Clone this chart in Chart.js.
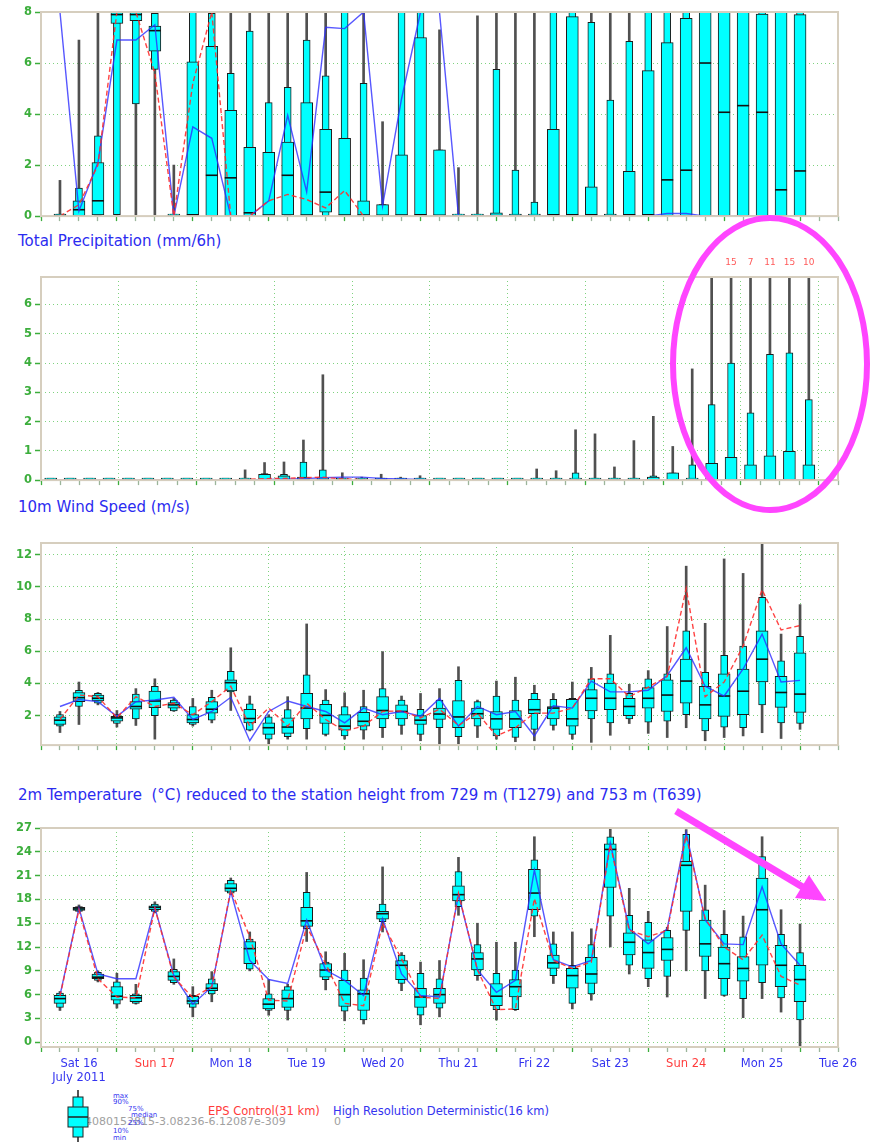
<!DOCTYPE html>
<html>
<head>
<meta charset="utf-8">
<script src="https://cdn.jsdelivr.net/npm/chart.js@4.4.1/dist/chart.umd.min.js"></script>
<style>
  body { margin: 0; background: #fff; }
  #page { position: relative; width: 870px; height: 1142px; overflow: hidden; font-family: "DejaVu Sans", sans-serif; }
  canvas { position: absolute; left: 0; }
  .title { position: absolute; left: 18px; color: #2b2bf0; font-size: 15px; line-height: 18px; white-space: pre; }
  .lg { position: absolute; white-space: pre; line-height: 1; }
  svg { position: absolute; left: 0; top: 0; pointer-events: none; }
</style>
</head>
<body>
<div id="page">
  <canvas id="cc" width="870" height="226" style="top:0px"></canvas>
  <div class="title" style="top:232px">Total Precipitation (mm/6h)</div>
  <canvas id="tp" width="870" height="240" style="top:250px"></canvas>
  <div class="title" style="top:498px">10m Wind Speed (m/s)</div>
  <canvas id="ws" width="870" height="225" style="top:530px"></canvas>
  <div class="title" style="top:786px">2m Temperature  (°C) reduced to the station height from 729 m (T1279) and 753 m (T639)</div>
  <canvas id="t2" width="870" height="277" style="top:815px"></canvas>

  <div class="lg" style="left:85px;top:1116px;font-size:11px;color:#a0a0a0">4080152815-3.08236-6.12087e-309</div>
  <div class="lg" style="left:334px;top:1116px;font-size:11px;color:#a0a0a0">0</div>
  <div class="lg" style="left:113px;top:1093px;font-size:7px;color:#3434f0">max</div>
  <div class="lg" style="left:113px;top:1099px;font-size:7px;color:#3434f0">90%</div>
  <div class="lg" style="left:128px;top:1106px;font-size:7px;color:#3434f0">75%</div>
  <div class="lg" style="left:131px;top:1112px;font-size:7px;color:#3434f0">median</div>
  <div class="lg" style="left:128px;top:1120px;font-size:7px;color:#3434f0">25%</div>
  <div class="lg" style="left:113px;top:1128px;font-size:7px;color:#3434f0">10%</div>
  <div class="lg" style="left:113px;top:1135px;font-size:7px;color:#3434f0">min</div>
  <div class="lg" style="left:208px;top:1106px;font-size:11.5px;color:#ff3b3b">EPS Control(31 km)</div>
  <div class="lg" style="left:333px;top:1106px;font-size:11.5px;color:#3434f0">High Resolution Deterministic(16 km)</div>

  <svg width="870" height="1142">
    <line x1="78" y1="1090" x2="78" y2="1142" stroke="#555" stroke-width="2"/>
    <rect x="73" y="1097" width="10" height="40" fill="#00ffff" stroke="#222" stroke-width="1"/>
    <rect x="68" y="1107" width="20" height="20" fill="#00ffff" stroke="#222" stroke-width="1"/>
    <line x1="68" y1="1117" x2="88" y2="1117" stroke="#222" stroke-width="1.5"/>
    <ellipse cx="770" cy="364" rx="97" ry="146" fill="none" stroke="#ff45ff" stroke-width="6"/>
    <line x1="676" y1="811" x2="806" y2="889" stroke="#ff45ff" stroke-width="7"/>
    <polygon points="826,901 795,898 809,875" fill="#ff45ff"/>
  </svg>
</div>

<script>
// time axes (hours after Sat 16 July 2011 00 UTC)
const stepHours = [6,12,18,24,30,36,42,48,54,60,66,72,78,84,90,96,102,108,114,120,
  126,132,138,144,150,156,162,168,174,180,186,192,198,204,210,216,222,228,234,240];
const precipHours = [3,9,15,21,27,33,39,45,51,57,63,69,75,81,87,93,99,105,111,117,
  123,129,135,141,147,153,159,165,171,177,183,189,195,201,207,213,219,225,231,237];
const dayLabels = [['Sat 16', 'July 2011'], 'Sun 17', 'Mon 18', 'Tue 19', 'Wed 20', 'Thu 21',
  'Fri 22', 'Sat 23', 'Sun 24', 'Mon 25', 'Tue 26'];

const cloudTicks = [0, 2, 4, 6, 8];
const precipTicks = [0, 1, 2, 3, 4, 5, 6];
const windTicks = [2, 4, 6, 8, 10, 12];
const tempTicks = [0, 3, 6, 9, 12, 15, 18, 21, 24, 27];

// top panel (0-8)
const ccMin = [0,0,0,0,0.05,0.05,0,0,0,0, 0,0,0,0,0,0,0,0,0,0, 0,0,0,0,0,0,0,0,0,0, 0,0,0,0,0,0,0,0,0,0];
const ccP10 = [0,0,0,0.06,4.4,5.75,0,0,0,0, 0,0,0,0,0,0,0,0,0,0, 0,0,0,0,0,0,0,0,0,0, 0,0,0,0,0,0,0,0,0,0];
const ccP25 = [0,0.02,0.05,7.55,7.66,6.46,0,0,0.02,0.02, 0,0,0.05,0,0.15,0,0,0,0,0, 0,0,0,0,0,0,0,0,0,0, 0,0,0,0,0,0,0,0,0,0];
const ccMed = [0.02,0.25,0.6,7.9,7.9,7.27,0,0.05,1.6,1.5, 0.13,0.04,1.6,0.04,0.94,0.04,0.04,0.03,0.04,0.05,
  0.03,0,0,0.02,0.02,0,0.05,0.05,0.05,0.02, 0.05,0.05,1.42,1.8,6.0,4.07,4.33,4.07,1.03,1.77];
const ccP75 = [0.03,0.6,2.1,8,8,7.45,0,6.05,6.65,4.15, 2.7,2.5,2.9,4.45,3.4,3.05,0.6,0.45,2.4,7.0,
  2.6,0,0,0.13,0.05,0.02,3.4,7.82,1.15,0.05, 1.75,5.7,6.8,7.75,8,8,8,7.92,8,7.9];
const ccP90 = [0.05,1.1,3.15,8,8,7.95,0,8,7.95,5.6, 7.25,4.45,5.05,6.9,5.5,8,5.2,0.45,8,8,
  2.6,0,0,5.75,1.8,0.55,8,8,7.6,4.55, 6.85,8,8,8,8,8,8,8,8,8];
const ccMax = [1.4,6.9,8,8,8,8,2.0,8,8,8, 8,8,8,8,8,8,8,3.7,8,8,
  7.3,1.9,7.85,8,8,8,8,8,8,8, 8,8,8,8,8,8,8,8,8,8];
const ccCtrl = [0,0.45,2.0,8,8,5.6,0,5.2,8,0, 0,0.6,0.85,0.65,0.32,1.0,0,0,0,0,
  0,0,0,0,0,0,0,0,0,0, 0,0,0,0,0,0,0,0,0,0];
const ccHres = [8,0.2,2.1,6.9,6.9,7.5,0,3.5,3.05,0, 0,0.6,3.95,0.95,7.4,7.35,8,0.4,4.6,8,
  8,0,0,0,0,0,0,0,0,0, 0,0,0.1,0.1,0,0,0,0,0,0];

// total precipitation (mm/6h)
const tpMin = [0,0,0,0,0,0,0,0,0,0, 0,0,0,0,0,0,0,0,0,0, 0,0,0,0,0,0,0,0,0,0, 0,0,0,0,0,0,0,0,0,0];
const tpP10 = [0,0,0,0,0,0,0,0,0,0, 0,0,0,0,0,0,0,0,0,0, 0,0,0,0,0,0,0,0,0,0, 0,0,0,0,0,0,0,0,0,0];
const tpP25 = [0,0,0,0,0,0,0,0,0,0, 0,0,0,0,0,0,0,0,0,0, 0,0,0,0,0,0,0,0,0,0, 0,0,0,0,0,0,0,0,0,0];
const tpMed = [0,0,0,0,0,0,0,0,0,0, 0,0,0,0,0,0,0,0,0,0, 0,0,0,0,0,0,0,0,0,0, 0,0,0,0,0,0,0,0,0,0];
const tpP75 = [0,0,0,0,0,0,0,0,0,0, 0.03,0.2,0.15,0.1,0.05,0.02,0,0,0,0,
  0,0,0,0,0,0,0,0.05,0,0, 0,0.1,0.25,0.05,0.57,0.78,0.52,0.83,0.98,0.52];
const tpP90 = [0,0,0,0,0,0,0,0,0,0, 0.05,0.22,0.2,0.62,0.35,0.05,0,0,0,0,
  0,0,0,0,0,0.02,0.03,0.25,0.03,0.01, 0.02,0.15,0.25,0.52,2.58,4.0,2.3,4.3,4.35,2.75];
const tpMax = [0.02,0.03,0.02,0.03,0.04,0.02,0.02,0.02,0.02,0.02, 0.35,0.6,0.62,1.37,3.6,0.25,0.1,0.2,0.1,0.15,
  0.03,0.02,0.05,0.02,0.05,0.38,0.32,1.72,1.58,0.45, 1.35,2.18,1.15,3.8,6.9,15,7,11,15,10];
const tpCtrl = [0,0,0,0,0,0,0,0,0,0, 0.02,0.05,0.06,0.08,0.1,0.04,0.02,0,0,0,
  0,0,0,0,0,0,0,0,0,0, 0,0,0,0,0,0,0,0,0,0];
const tpHres = [0,0,0,0,0,0,0,0,0,0, 0,0.02,0.03,0.05,0.08,0.1,0.1,0.06,0.04,0.02,
  0,0,0,0,0,0,0,0,0,0, 0,0,0,0,0,0,0,0,0,0];

// 10m wind speed (m/s)
const wsMin = [0.95,1.45,2.67,1.29,1.39,0.54,2.26,1.35,1.55,2.32, 1.05,0.24,0.54,0.54,0.74,0.54,0.54,0.64,0.84,0.44,
  0.24,0.24,0.64,0.54,0.38,0.44,1.1,0.54,0.34,0.78, 1.51,0.9,0.64,1.25,0.44,0.64,0.74,0.94,0.58,1.15];
const wsP10 = [1.35,2.57,2.77,1.51,1.8,2.0,2.3,1.45,1.72,3.48, 1.1,0.54,0.7,1.19,0.84,0.74,1.1,1.25,1.39,0.84,
  1.25,0.7,1.35,0.74,0.64,1.15,1.39,0.84,1.8,1.55, 1.8,1.6,1.65,2.06,1.05,1.29,1.25,2.67,1.55,1.51];
const wsP25 = [1.45,2.87,2.91,1.65,2.4,2.5,2.47,1.55,2.16,3.54, 1.55,0.84,0.9,1.8,1.51,1.1,1.35,1.8,1.8,1.45,
  1.76,1.25,1.8,1.15,1.25,2.12,1.8,1.35,2.3,2.37, 2.0,2.47,2.26,2.77,1.8,1.96,2.06,4.09,2.51,2.2];
const wsMed = [1.72,3.12,3.08,1.86,2.57,2.91,2.67,1.76,2.4,4.05, 1.82,1.25,1.29,2.47,2.02,1.35,1.65,2.32,2.26,1.72,
  2.1,1.92,2.12,1.8,1.8,2.37,2.47,1.8,3.08,3.08, 2.57,3.08,3.28,4.15,2.67,3.22,3.52,5.51,3.44,3.34];
const wsP75 = [1.92,3.44,3.28,1.96,2.87,3.52,2.81,2.06,2.87,4.23, 2.4,1.55,1.86,3.38,2.71,2.06,2.2,3.18,2.67,2.0,
  2.47,2.93,2.47,2.26,2.32,3.01,2.57,3.01,3.62,4.03, 3.07,3.74,4.23,5.51,3.83,4.6,4.9,7.27,4.45,5.91];
const wsP90 = [2.06,3.58,3.38,2.06,3.34,3.83,2.97,2.57,3.14,4.76, 2.73,1.92,2.37,4.54,2.97,2.57,2.57,3.68,2.97,2.4,
  2.97,4.19,2.87,3.22,2.97,3.38,3.01,3.07,4.29,4.6, 3.38,4.29,4.6,7.27,4.7,5.75,6.32,9.36,5.41,6.93];
const wsMax = [2.26,4.09,3.44,2.32,3.68,4.29,3.07,3.07,3.58,6.22, 3.22,2.06,3.18,7.7,3.62,3.42,3.58,5.98,3.22,3.38,
  3.68,5.04,2.97,4.15,4.39,3.89,3.38,4.09,5.0,6.99, 3.95,4.8,7.54,11.29,7.74,11.74,10.84,12.75,7.07,8.9];
const wsCtrl = [1.76,3.28,3.18,1.86,3.18,2.57,2.77,2.06,2.87,3.83, 1.35,2.47,1.35,2.77,1.76,1.05,1.35,2.26,2.3,1.86,
  2.4,1.39,2.16,0.74,1.25,2.16,2.16,2.47,4.29,4.29, 3.18,3.78,4.43,9.91,3.18,4.09,6.32,9.83,7.33,7.6];
const wsHres = [2.57,3.0,2.87,1.96,2.87,2.97,3.14,1.76,2.26,3.14, 0.44,2.26,2.91,2.57,2.26,1.55,2.47,2.06,2.26,1.96,
  3.07,1.35,2.57,2.06,2.26,0.74,2.61,2.47,4.15,3.48, 3.48,3.58,4.5,6.22,3.83,3.22,4.9,7.07,4.09,4.19];

// 2m temperature (°C)
const t2Min = [4.0,16.4,7.6,4.3,4.8,16.3,7.3,3.2,5.1,18.6, 9.0,3.4,2.8,12.7,6.6,2.7,2.3,13.9,6.5,2.2,
  3.2,16.0,7.8,2.8,4.0,13.3,7.4,4.2,5.3,12.0, 8.6,7.0,5.7,9.0,5.5,5.8,3.1,5.5,3.8,-0.6];
const t2P10 = [4.4,16.5,7.8,4.8,4.9,16.5,7.5,4.4,6.1,18.8, 9.2,4.0,4.0,14.3,7.9,3.9,2.8,15.2,7.4,3.4,
  4.3,17.1,8.4,4.1,4.1,15.9,8.4,4.9,6.1,15.9, 9.7,8.0,8.3,14.1,9.0,5.9,5.5,7.5,5.6,2.8];
const t2P25 = [4.9,16.6,8.0,5.3,5.1,16.7,7.8,4.8,6.5,19.0, 9.9,4.2,4.4,14.6,8.2,4.5,4.0,15.5,7.9,4.4,
  4.9,17.8,9.1,4.6,5.7,16.7,9.3,6.8,7.4,19.5, 11.0,9.3,10.3,16.5,10.8,8.0,7.7,9.7,7.0,5.1];
const t2Med = [5.5,16.8,8.2,5.8,5.6,17.0,8.3,5.2,6.8,19.4, 11.8,4.8,5.5,15.3,9.1,6.0,6.1,16.2,9.7,5.7,
  6.0,18.6,10.5,5.8,7.0,18.8,10.0,8.4,8.6,24.3, 12.6,11.3,11.7,22.3,12.4,9.9,9.3,16.7,9.7,7.9];
const t2P75 = [5.9,17.0,8.6,7.0,5.9,17.2,8.9,5.8,7.4,20.0, 12.7,5.5,6.6,17.0,9.9,7.8,6.6,16.5,10.3,6.8,
  6.8,19.7,11.3,7.4,7.9,21.8,11.0,9.3,10.7,25.0, 13.8,12.9,13.2,22.8,15.4,12.0,10.8,20.7,12.2,9.7];
const t2P90 = [6.2,17.1,8.8,7.6,6.1,17.4,9.2,5.9,8.0,20.4, 13.0,6.1,7.0,18.9,10.1,9.1,8.1,17.4,11.0,8.7,
  8.0,21.5,12.3,8.7,9.1,23.0,12.4,9.7,12.3,25.9, 16.0,15.1,14.1,26.2,16.7,13.6,13.3,23.4,13.6,11.3];
const t2Max = [6.4,17.3,9.0,8.7,7.3,17.7,10.5,7.0,8.9,20.7, 13.9,7.9,7.3,21.4,11.4,11.2,10.4,22.1,11.3,10.1,
  10.3,23.3,15.0,12.6,12.6,25.9,13.9,13.9,14.3,27.0, 19.4,16.5,14.5,26.8,19.8,16.6,15.9,25.9,16.7,14.9];
const t2Ctrl = [5.8,16.7,8.0,5.7,5.6,16.9,8.2,5.6,7.0,19.2, 13.3,5.3,5.2,14.6,9.9,4.9,4.6,15.0,10.5,5.7,
  5.5,18.8,9.1,4.1,4.2,18.1,10.3,9.3,10.1,24.9, 14.1,13.3,14.1,26.0,15.6,12.0,10.4,13.5,8.3,7.2];
const t2Hres = [5.9,16.9,8.6,8.0,8.0,17.0,8.4,4.8,7.0,19.0, 10.3,7.9,7.4,15.4,9.1,7.8,5.9,15.6,8.6,5.9,
  5.7,18.6,9.1,6.3,7.8,21.7,10.4,9.5,10.3,25.1, 14.3,12.4,14.3,26.4,15.4,12.4,12.3,19.6,12.4,9.7];

const GRID = 'rgba(95, 200, 95, 0.8)';
const GREEN = '#3cae3c';
const FRAME = '#d6cebe';
const CYAN = '#00ffff';

function pts(hours, vals) { return hours.map((h, i) => ({ x: h, y: vals[i] })); }
function span(hours, lo, hi) { return hours.map((h, i) => ({ x: h, y: [lo[i], hi[i]] })); }

// tan frame round the plot area
const framePlugin = {
  id: 'frame',
  afterDatasetsDraw(chart) {
    const { ctx, chartArea: a } = chart;
    ctx.save();
    ctx.strokeStyle = FRAME;
    ctx.lineWidth = 2;
    ctx.strokeRect(a.left, a.top, a.right - a.left, a.bottom - a.top);
    ctx.restore();
  }
};

// values above the axis top are written above the plot in red
const overflowPlugin = {
  id: 'overflow',
  afterDatasetsDraw(chart, args, opts) {
    if (!opts.values) return;
    const { ctx, scales: { x, y } } = chart;
    ctx.save();
    ctx.fillStyle = '#ff5a5a';
    ctx.font = '9px "DejaVu Sans"';
    ctx.textAlign = 'center';
    ctx.textBaseline = 'middle';
    opts.values.forEach((v, i) => {
      if (v > y.max) ctx.fillText(String(Math.round(v)), x.getPixelForValue(opts.hours[i]), chart.chartArea.top - 14);
    });
    ctx.restore();
  }
};

function panel(id, o) {
  return new Chart(document.getElementById(id), {
    type: 'bar',
    data: {
      datasets: [
        { type: 'line', data: pts(o.hours, o.ctrl), borderColor: 'rgba(255,45,45,0.9)', borderDash: [5, 3],
          borderWidth: 1.4, pointRadius: 0, order: 0 },
        { type: 'line', data: pts(o.hours, o.hres), borderColor: 'rgba(45,45,255,0.8)',
          borderWidth: 1.4, pointRadius: 0, order: 0 },
        { type: 'line', data: pts(o.hours, o.med), showLine: false, pointStyle: 'line', pointRadius: 6,
          pointBorderWidth: 1.6, pointBorderColor: '#111', pointBackgroundColor: '#111', order: 1 },
        { data: span(o.hours, o.p25, o.p75), barThickness: 12, minBarLength: 2, backgroundColor: CYAN,
          borderColor: '#1c1c1c', borderWidth: 1, borderSkipped: false, grouped: false, order: 2 },
        { data: span(o.hours, o.p10, o.p90), barThickness: 7, minBarLength: 2, backgroundColor: CYAN,
          borderColor: '#1c1c1c', borderWidth: 1, borderSkipped: false, grouped: false, order: 3 },
        { data: span(o.hours, o.min, o.max), barThickness: 2, backgroundColor: '#505050',
          borderWidth: 0, grouped: false, order: 4 }
      ]
    },
    plugins: [framePlugin, overflowPlugin],
    options: {
      responsive: false,
      devicePixelRatio: 1,
      animation: false,
      events: [],
      layout: { padding: { top: o.padTop, right: 32, left: 0, bottom: 0 } },
      plugins: { legend: { display: false }, tooltip: { enabled: false }, overflow: o.overflow || {} },
      scales: {
        x: {
          type: 'linear', min: 0, max: o.xMax, offset: false,
          afterBuildTicks: s => {
            const t = [];
            for (let h = 0; h <= o.xMax; h += 6) t.push({ value: h });
            s.ticks = t;
          },
          afterFit: s => { s.height = o.xHeight; },
          ticks: {
            display: !!o.dayAxis, autoSkip: false, maxRotation: 0, minRotation: 0, padding: 5,
            font: { family: 'DejaVu Sans', size: 11.5 },
            callback: v => (v % 24 === 12 ? dayLabels[(v - 12) / 24] : ''),
            color: c => {
              const lab = dayLabels[(c.tick.value - 12) / 24];
              return typeof lab === 'string' && lab.startsWith('Sun') ? '#ff3b3b' : '#3434f0';
            }
          },
          grid: {
            offset: false,
            color: c => (c.tick && c.tick.value % 24 === 0 ? GRID : 'rgba(0,0,0,0)'),
            tickColor: c => (c.tick && c.tick.value % 24 === 0 ? GREEN : '#9bb59b'),
            tickLength: 5, tickWidth: 1.3
          },
          border: { display: false, dash: [1, 3] }
        },
        y: {
          min: o.yMin, max: o.yMax,
          afterBuildTicks: s => { s.ticks = o.yTicks.map(v => ({ value: v })); },
          afterFit: s => { s.width = 41; },
          ticks: { color: GREEN, padding: 3, font: { family: 'DejaVu Sans', size: 11.5, weight: 'bold' } },
          grid: { color: GRID, tickColor: GREEN, tickLength: 6, tickWidth: 1.5 },
          border: { display: false, dash: [1, 3] }
        }
      }
    }
  });
}

panel('cc', { hours: stepHours, min: ccMin, p10: ccP10, p25: ccP25, med: ccMed, p75: ccP75, p90: ccP90, max: ccMax,
  ctrl: ccCtrl, hres: ccHres, yMin: 0, yMax: 8, yTicks: cloudTicks, xMax: 252, padTop: 12, xHeight: 8 });

panel('tp', { hours: precipHours, min: tpMin, p10: tpP10, p25: tpP25, med: tpMed, p75: tpP75, p90: tpP90, max: tpMax,
  ctrl: tpCtrl, hres: tpHres, yMin: 0, yMax: 6.94, yTicks: precipTicks, xMax: 246, padTop: 27, xHeight: 6,
  overflow: { values: tpMax, hours: precipHours } });

panel('ws', { hours: stepHours, min: wsMin, p10: wsP10, p25: wsP25, med: wsMed, p75: wsP75, p90: wsP90, max: wsMax,
  ctrl: wsCtrl, hres: wsHres, yMin: 0.17, yMax: 12.73, yTicks: windTicks, xMax: 252, padTop: 13, xHeight: 6 });

panel('t2', { hours: stepHours, min: t2Min, p10: t2P10, p25: t2P25, med: t2Med, p75: t2P75, p90: t2P90, max: t2Max,
  ctrl: t2Ctrl, hres: t2Hres, yMin: -0.6, yMax: 27, yTicks: tempTicks, xMax: 252, padTop: 13, xHeight: 45,
  dayAxis: true });
</script>
</body>
</html>
